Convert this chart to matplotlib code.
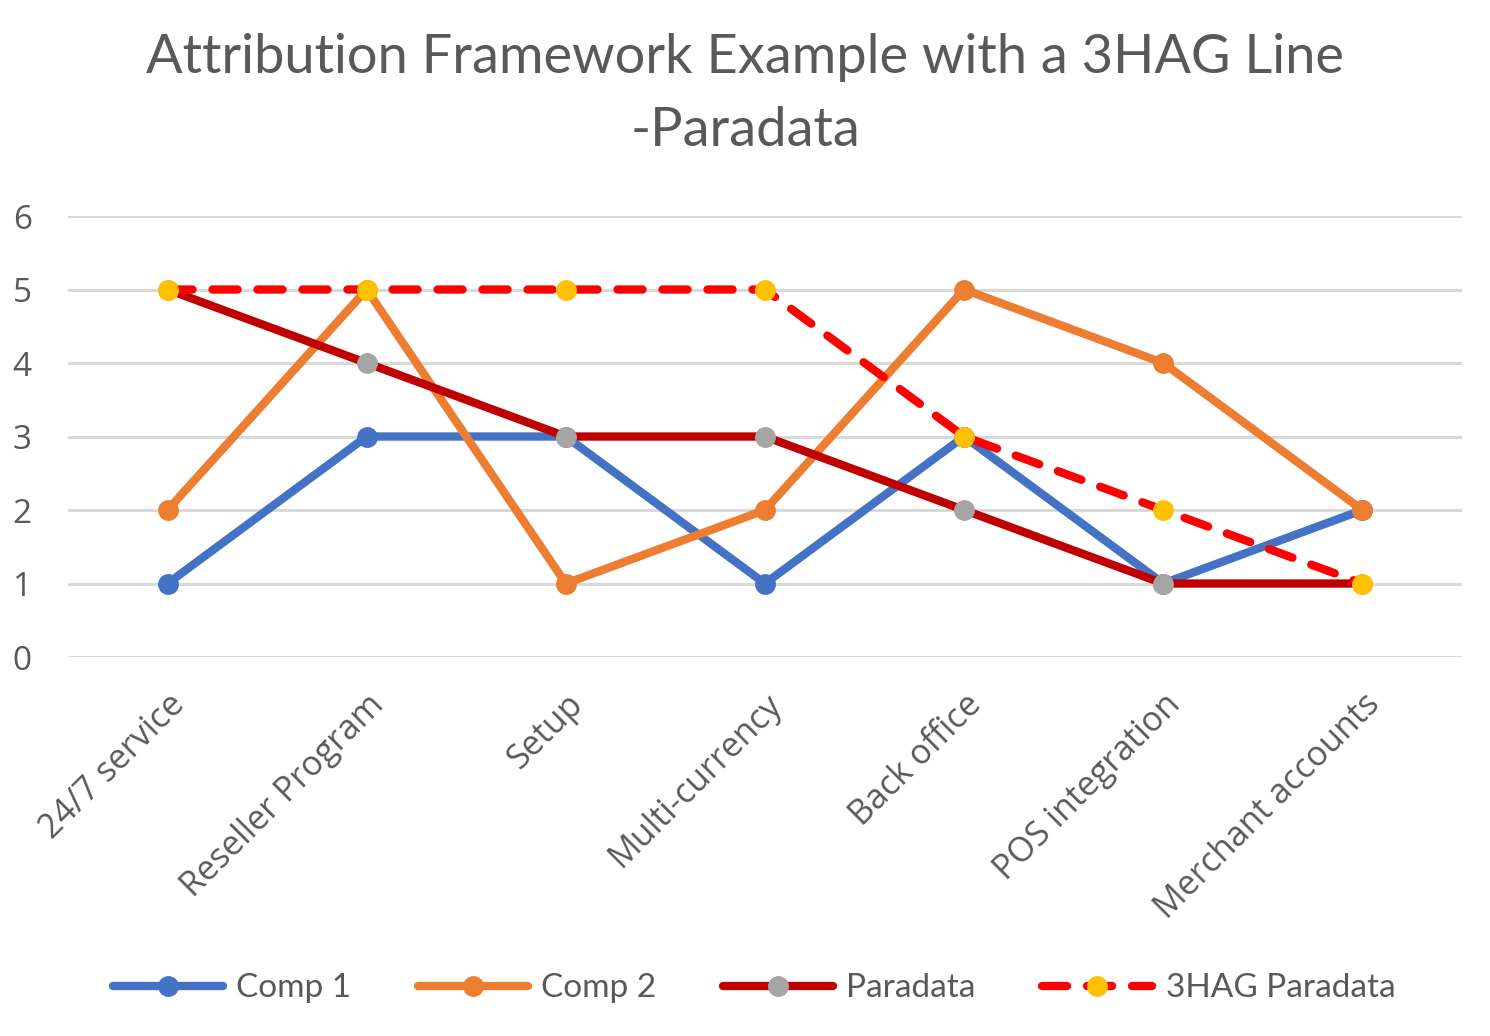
import matplotlib
matplotlib.use("Agg")
import matplotlib.pyplot as plt
import numpy as np

categories = ["24/7 service", "Reseller Program", "Setup", "Multi-currency",
              "Back office", "POS integration", "Merchant accounts"]
comp1 = [1, 3, 3, 1, 3, 1, 2]
comp2 = [2, 5, 1, 2, 5, 4, 2]
paradata = [5, 4, 3, 3, 2, 1, 1]
hag_paradata = [5, 5, 5, 5, 3, 2, 1]

plt.rcParams['font.family'] = ['Lato', 'DejaVu Sans']
text_col = "#595959"

fig = plt.figure(figsize=(14.9, 10.36), dpi=100)
ax = fig.add_axes([0.0456, 0.3658, 0.9356, 0.4257])

x = np.arange(len(categories))
lw = 6
ms = 14

ax.plot(x, comp1, color="#4472C4", lw=lw, marker="o", ms=ms,
        solid_capstyle="round", label="Comp 1", zorder=3)
ax.plot(x, comp2, color="#ED7D31", lw=lw, marker="o", ms=ms,
        solid_capstyle="round", label="Comp 2", zorder=4)
ax.plot(x, paradata, color="#C00000", lw=lw, marker="o", ms=ms,
        markerfacecolor="#A5A5A5", markeredgecolor="#A5A5A5",
        solid_capstyle="round", label="Paradata", zorder=5)
ax.plot(x, hag_paradata, color="#FF0000", lw=lw, marker="o", ms=ms,
        markerfacecolor="#FFC000", markeredgecolor="#FFC000",
        linestyle=(0, (3.0, 2.4)), dash_capstyle="round",
        label="3HAG Paradata", zorder=6)

ax.set_xlim(-0.5, len(categories) - 0.5)
ax.set_ylim(0, 6)
ax.set_yticks(range(0, 7))
ax.grid(axis="y", color="#D9D9D9", lw=2.2)
ax.set_axisbelow(True)
for s in ax.spines.values():
    s.set_visible(False)
ax.tick_params(length=0)
ax.tick_params(axis="y", labelsize=24, labelcolor=text_col, pad=26)
for lab in ax.get_yticklabels():
    lab.set_fontfamily(['Open Sans', 'DejaVu Sans'])

ax.set_xticks(x)
ax.set_xticklabels(categories, rotation=45, ha="right", rotation_mode="anchor",
                   fontsize=24.5, color=text_col, family=['Open Sans', 'DejaVu Sans'])
ax.tick_params(axis="x", pad=22)

fig.text(0.5, 1 - 58 / 1036, "Attribution Framework Example with a 3HAG Line",
         ha="center", va="center", fontsize=39, color=text_col)
fig.text(0.5, 1 - 130 / 1036, "-Paradata",
         ha="center", va="center", fontsize=39, color=text_col)

leg = fig.legend(loc="center", bbox_to_anchor=(0.506, 0.046), ncol=4,
                 frameon=False, fontsize=24, handlelength=3.3,
                 columnspacing=2.0, handletextpad=0.4)
for t in leg.get_texts():
    t.set_color(text_col)

fig.savefig("out.png", dpi=100)
